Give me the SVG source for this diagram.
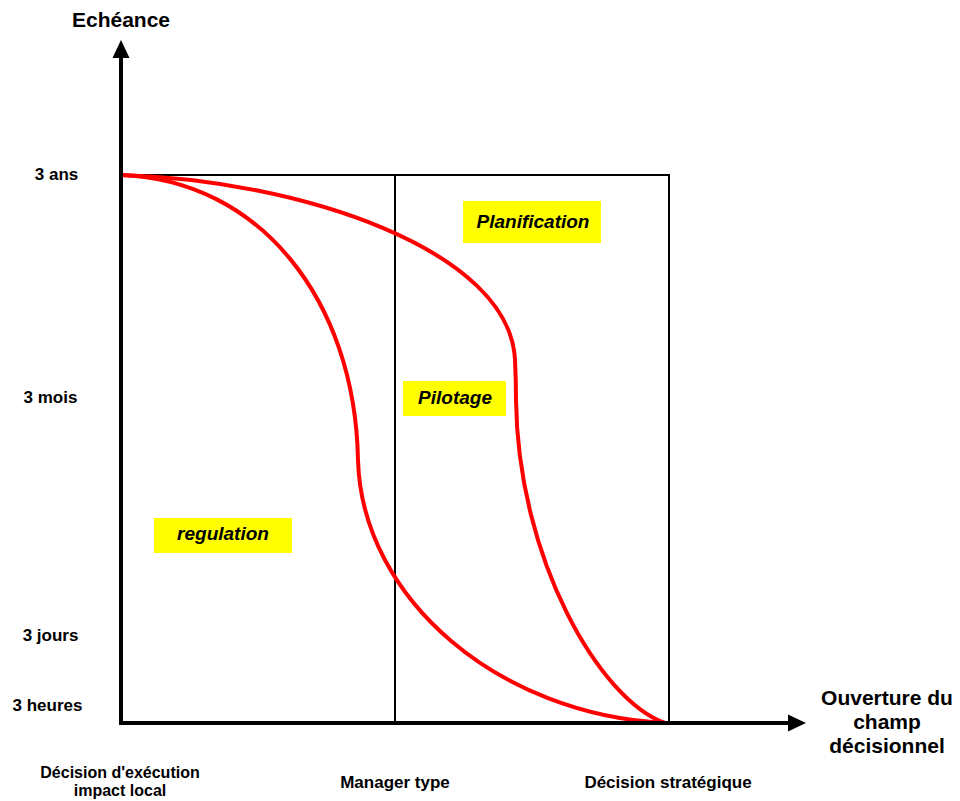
<svg xmlns="http://www.w3.org/2000/svg" width="960" height="801" viewBox="0 0 960 801">
  <style>
    text { font-family: "Liberation Sans", Arial, sans-serif; font-weight: bold; fill: #000; }
    .tick { font-size: 17px; text-anchor: middle; }
    .tick-sm { font-size: 16px; text-anchor: middle; }
    .axis-title { font-size: 21px; text-anchor: middle; }
    .zone-label { font-size: 19px; font-style: italic; text-anchor: middle; }
    .zone-box { fill: #ffff00; }
    .frame { fill: none; stroke: #000; stroke-width: 2; }
    .axis { fill: none; stroke: #000; stroke-width: 4; }
    .curve { fill: none; stroke: #ff0000; stroke-width: 4; stroke-linecap: round; }
  </style>
  <defs>
    <marker id="arrow" markerUnits="userSpaceOnUse" markerWidth="20" markerHeight="18" refX="2" refY="9" orient="auto">
      <path d="M0,0.5 L18,9 L0,17.5 Z" fill="#000"/>
    </marker>
  </defs>

  <!-- region frame -->
  <g id="frame">
    <polyline class="frame" points="121,175 669,175 669,723"/>
    <line class="frame" x1="395" y1="175" x2="395" y2="723"/>
  </g>

  <!-- boundary curves -->
  <g id="connectors">
    <path class="curve" d="M121,175 C260,180 355,300 358,460 C362,600 500,715 665,723"/>
    <path class="curve" d="M121,175 C300,180 510,250 515,360 C516,380 516,390 516,400 C518,560 600,700 665,723"/>
  </g>

  <!-- axes -->
  <g id="axes">
    <line class="axis" x1="121" y1="723" x2="121" y2="56" marker-end="url(#arrow)"/>
    <line class="axis" x1="119" y1="723" x2="790" y2="723" marker-end="url(#arrow)"/>
  </g>

  <g id="y-title"><text class="axis-title" x="121" y="27">Echéance</text></g>
  <g id="x-title">
    <text class="axis-title" x="887" y="705">Ouverture du</text>
    <text class="axis-title" x="887" y="729">champ</text>
    <text class="axis-title" x="887" y="753">décisionnel</text>
  </g>

  <g id="y-ticks">
    <text class="tick" x="56.5" y="180">3 ans</text>
    <text class="tick" x="50.5" y="403">3 mois</text>
    <text class="tick" x="50.5" y="641">3 jours</text>
    <text class="tick" x="47.5" y="711">3 heures</text>
  </g>

  <g id="x-ticks">
    <text class="tick-sm" x="120" y="778">Décision d'exécution</text>
    <text class="tick-sm" x="120" y="796">impact local</text>
    <text class="tick" x="395" y="788">Manager type</text>
    <text class="tick" x="668" y="788">Décision stratégique</text>
  </g>

  <g id="planification">
    <rect class="zone-box" x="463" y="201" width="138" height="42"/>
    <text class="zone-label" x="533" y="228">Planification</text>
  </g>
  <g id="pilotage">
    <rect class="zone-box" x="403" y="381" width="103" height="35"/>
    <text class="zone-label" x="455" y="404">Pilotage</text>
  </g>
  <g id="regulation">
    <rect class="zone-box" x="154" y="518" width="138" height="35"/>
    <text class="zone-label" x="223" y="540">regulation</text>
  </g>
</svg>
